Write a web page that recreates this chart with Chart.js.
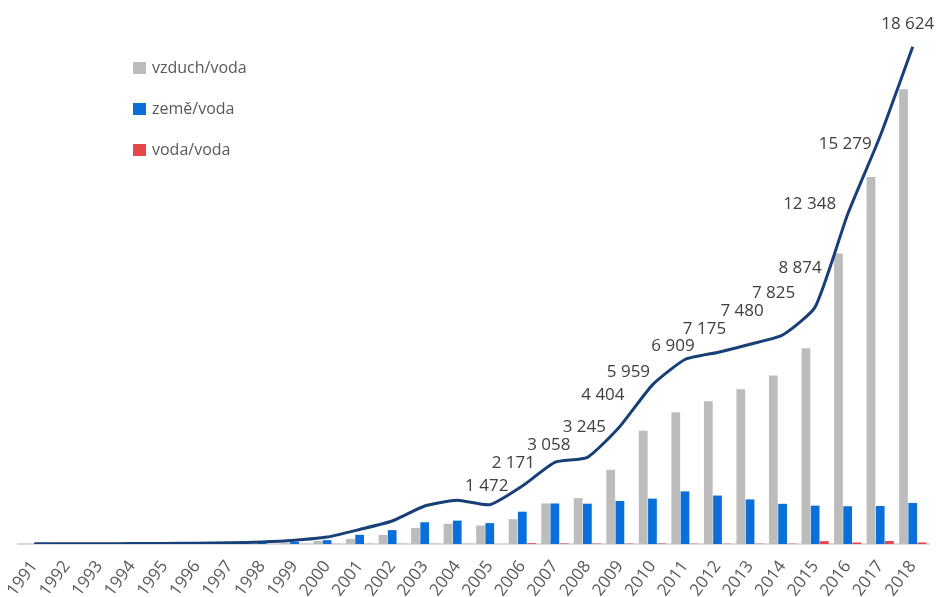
<!DOCTYPE html>
<html>
<head>
<meta charset="utf-8">
<script src="https://cdn.jsdelivr.net/npm/chart.js@4.4.1/dist/chart.umd.min.js"></script>
<style>
    html, body { margin: 0; padding: 0; background: #ffffff; }
    #wrap { position: relative; width: 940px; height: 597px; overflow: hidden; }
    #legend { position: absolute; left: 133px; top: 54px; font-family: "Open Sans", sans-serif; font-size: 16px; color: #595959; }
    #legend div { height: 41px; line-height: 26px; white-space: nowrap; }
    #legend span.box { display: inline-block; width: 13px; height: 12px; margin-right: 6px; vertical-align: -1px; }
</style>
</head>
<body>
<div id="wrap">
    <canvas id="chart-tc" width="940" height="597"></canvas>
    <div id="legend"></div>
</div>
<script>

var roky = ['1991', '1992', '1993', '1994', '1995', '1996', '1997', '1998', '1999', '2000',
    '2001', '2002', '2003', '2004', '2005', '2006', '2007', '2008', '2009', '2010',
    '2011', '2012', '2013', '2014', '2015', '2016', '2017', '2018'];

// vzduch/voda
var vzduchVoda = [0, 0, 0, 0, 2, 5, 10, 20, 45, 115,
    190, 340, 600, 760, 690, 930, 1520, 1720, 2780, 4240,
    4930, 5350, 5800, 6310, 7330, 10877, 13743, 17030];

// země/voda
var zemeVoda = [3, 5, 8, 12, 18, 25, 35, 50, 80, 145,
    345, 520, 815, 875, 782, 1210, 1518, 1510, 1610, 1700,
    1970, 1815, 1670, 1505, 1437, 1414, 1423, 1535];

// voda/voda
var vodaVoda = [0, 0, 0, 0, 0, 0, 0, 0, 2, 3,
    5, 5, 5, 5, 0, 31, 20, 15, 14, 19,
    9, 10, 10, 10, 107, 57, 113, 59];

// celkem (line)
var celkem = [5, 8, 10, 15, 22, 32, 48, 75, 140, 260,
    545, 862, 1425, 1640, 1472, 2171, 3058, 3245, 4404, 5959,
    6909, 7175, 7480, 7825, 8874, 12348, 15279, 18624];

var popisky = ['', '', '', '', '', '', '', '', '', '',
    '', '', '', '', '1 472', '2 171', '3 058', '3 245', '4 404', '5 959',
    '6 909', '7 175', '7 480', '7 825', '8 874', '12 348', '15 279', '18 624'];

// label offset from the point (dx, dy), Excel-style placement
var popiskyPosun = {
    14: [-3, -19], 15: [-9, -23], 16: [-6, -17], 17: [-3, -30], 18: [-17, -31],
    19: [-24, -13], 20: [-12, -13], 21: [-13, -23], 22: [-8, -33], 23: [-9, -42],
    24: [-15, -39], 25: [-38, -10], 26: [-35, 8], 27: [-5, -23]
};

var barvy = ['#bcbcbc', '#0a6fd8', '#e5474b'];
var nazvy = ['vzduch/voda', 'země/voda', 'voda/voda'];

// legend
var legendHtml = '';
for (var i = 0; i < nazvy.length; i++) {
    legendHtml += '<div><span class="box" style="background:' + barvy[i] + '"></span>' + nazvy[i] + '</div>';
}
document.getElementById('legend').innerHTML = legendHtml;

var lineLabels = {
    id: 'lineLabels',
    afterDatasetsDraw: function (chart) {
        var ctx = chart.ctx;
        var meta = chart.getDatasetMeta(3);
        ctx.save();
        ctx.font = '17px "Open Sans", sans-serif';
        ctx.fillStyle = '#404040';
        ctx.textAlign = 'center';
        ctx.textBaseline = 'middle';
        for (var i = 0; i < popisky.length; i++) {
            if (!popisky[i]) continue;
            var pt = meta.data[i];
            var off = popiskyPosun[i] || [0, -15];
            ctx.fillText(popisky[i], pt.x + off[0], pt.y + off[1]);
        }
        ctx.restore();
    }
};

var ctx = document.getElementById('chart-tc').getContext('2d');
var chartTc = new Chart(ctx, {
    data: {
        labels: roky,
        datasets: [
            { type: 'bar', label: nazvy[0], data: vzduchVoda, backgroundColor: barvy[0], order: 2 },
            { type: 'bar', label: nazvy[1], data: zemeVoda, backgroundColor: barvy[1], order: 2 },
            { type: 'bar', label: nazvy[2], data: vodaVoda, backgroundColor: barvy[2], order: 2 },
            {
                type: 'line',
                label: 'celkem',
                data: celkem,
                borderColor: '#173f78',
                borderWidth: 3,
                pointRadius: 0,
                tension: 0.18,
                fill: false,
                order: 1
            }
        ]
    },
    options: {
        responsive: false,
        animation: false,
        layout: { padding: { left: 18, right: 11, top: 10, bottom: 0 } },
        datasets: {
            bar: { categoryPercentage: 0.85, barPercentage: 0.95 }
        },
        plugins: {
            legend: { display: false },
            tooltip: { enabled: false }
        },
        scales: {
            x: {
                offset: true,
                grid: { display: false, drawTicks: false },
                border: { display: true, color: '#d9d9d9', width: 2 },
                ticks: {
                    minRotation: 53,
                    maxRotation: 53,
                    padding: 13,
                    color: '#595959',
                    font: { family: 'Open Sans', size: 17 }
                },
                afterFit: function (axis) {
                    axis.height = 53;
                    axis.paddingLeft = 0;
                    axis.paddingRight = 0;
                }
            },
            y: {
                display: false,
                min: 0,
                max: 20000
            }
        }
    },
    plugins: [lineLabels]
});

</script>
</body>
</html>
